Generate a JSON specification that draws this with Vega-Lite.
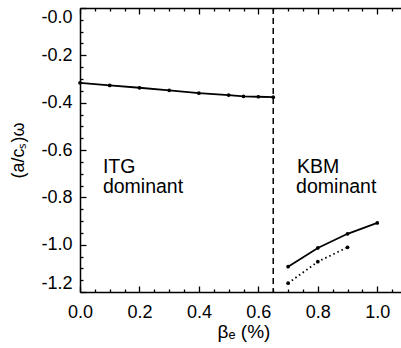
{
  "$schema": "https://vega.github.io/schema/vega-lite/v6.json",
  "width": 327,
  "height": 284,
  "autosize": "none",
  "padding": {"left": 80, "top": 8, "right": -6, "bottom": 56},
  "background": "white",
  "config": {
    "view": {"stroke": null},
    "font": "Liberation Sans",
    "axis": {
      "grid": false,
      "domainColor": "black",
      "domainWidth": 1.5,
      "tickColor": "black",
      "tickWidth": 1.3,
      "labelColor": "black",
      "titleColor": "black",
      "labelFont": "Liberation Sans",
      "titleFont": "Liberation Sans",
      "labelFontSize": 18,
      "titleFontSize": 19,
      "titleFontWeight": "normal"
    }
  },
  "datasets": {
    "curves": [
      {"series": "ITG", "style": "solid", "beta": 0.0, "omega": -0.316},
      {"series": "ITG", "style": "solid", "beta": 0.1, "omega": -0.327},
      {"series": "ITG", "style": "solid", "beta": 0.2, "omega": -0.337},
      {"series": "ITG", "style": "solid", "beta": 0.3, "omega": -0.348},
      {"series": "ITG", "style": "solid", "beta": 0.4, "omega": -0.36},
      {"series": "ITG", "style": "solid", "beta": 0.5, "omega": -0.368},
      {"series": "ITG", "style": "solid", "beta": 0.55, "omega": -0.373},
      {"series": "ITG", "style": "solid", "beta": 0.6, "omega": -0.375},
      {"series": "ITG", "style": "solid", "beta": 0.65, "omega": -0.377},
      {"series": "KBM", "style": "solid", "beta": 0.7, "omega": -1.093},
      {"series": "KBM", "style": "solid", "beta": 0.8, "omega": -1.014},
      {"series": "KBM", "style": "solid", "beta": 0.9, "omega": -0.954},
      {"series": "KBM", "style": "solid", "beta": 1.0, "omega": -0.908},
      {"series": "KBM2", "style": "dotted", "beta": 0.7, "omega": -1.163},
      {"series": "KBM2", "style": "dotted", "beta": 0.8, "omega": -1.072},
      {"series": "KBM2", "style": "dotted", "beta": 0.9, "omega": -1.011}
    ],
    "boundary": [{"beta": 0.65}],
    "labels": [
      {"beta": 0.077, "omega": -0.697, "text": "ITG"},
      {"beta": 0.077, "omega": -0.782, "text": "dominant"},
      {"beta": 0.73, "omega": -0.697, "text": "KBM"},
      {"beta": 0.727, "omega": -0.782, "text": "dominant"}
    ]
  },
  "resolve": {"axis": {"x": "independent", "y": "independent"}},
  "layer": [
    {
      "data": {"name": "curves"},
      "transform": [{"filter": "datum.style == 'solid'"}],
      "mark": {"type": "line", "color": "black", "strokeWidth": 1.8},
      "encoding": {
        "x": {
          "field": "beta", "type": "quantitative",
          "scale": {"domain": [0, 1.1], "nice": false, "zero": false},
          "axis": {
            "orient": "bottom",
            "values": [0, 0.2, 0.4, 0.6, 0.8, 1.0],
            "tickSize": -6,
            "labelPadding": 17,
            "labelFlush": false,
            "labelExpr": "format(datum.value, '.1f')",
            "title": "βₑ (%)",
            "titlePadding": 1
          }
        },
        "y": {
          "field": "omega", "type": "quantitative",
          "scale": {"domain": [-1.2, 0], "nice": false, "zero": false},
          "axis": {
            "orient": "left",
            "values": [-1.2, -1.0, -0.8, -0.6, -0.4, -0.2, 0],
            "tickSize": -6,
            "labelPadding": 14,
            "labelFlush": true,
            "labelExpr": "'-' + format(abs(datum.value), '.1f')",
            "title": "(a/cₛ)ω",
            "titleFontSize": 18,
            "titlePadding": 13
          }
        },
        "detail": {"field": "series"}
      }
    },
    {
      "data": {"name": "curves"},
      "transform": [{"filter": "datum.style == 'dotted'"}],
      "mark": {"type": "line", "color": "black", "strokeWidth": 1.8, "strokeDash": [1.5, 3]},
      "encoding": {
        "x": {
          "field": "beta", "type": "quantitative",
          "scale": {"domain": [0, 1.1], "nice": false, "zero": false},
          "axis": {
            "orient": "bottom",
            "values": [0.05, 0.1, 0.15, 0.25, 0.3, 0.35, 0.45, 0.5, 0.55, 0.65, 0.7, 0.75, 0.85, 0.9, 0.95, 1.05],
            "tickSize": -3,
            "labels": false,
            "domain": false,
            "title": null
          }
        },
        "y": {
          "field": "omega", "type": "quantitative",
          "scale": {"domain": [-1.2, 0], "nice": false, "zero": false},
          "axis": {
            "orient": "left",
            "values": [-1.15, -1.1, -1.05, -0.95, -0.9, -0.85, -0.75, -0.7, -0.65, -0.55, -0.5, -0.45, -0.35, -0.3, -0.25, -0.15, -0.1, -0.05],
            "tickSize": -3,
            "labels": false,
            "domain": false,
            "title": null
          }
        }
      }
    },
    {
      "data": {"name": "curves"},
      "mark": {"type": "point", "filled": true, "color": "black", "size": 14, "opacity": 1},
      "encoding": {
        "x": {
          "field": "beta", "type": "quantitative",
          "scale": {"domain": [0, 1.1], "nice": false, "zero": false},
          "axis": {
            "orient": "top",
            "values": [0, 0.2, 0.4, 0.6, 0.8, 1.0],
            "tickSize": -6,
            "labels": false,
            "title": null
          }
        },
        "y": {
          "field": "omega", "type": "quantitative",
          "scale": {"domain": [-1.2, 0], "nice": false, "zero": false},
          "axis": null
        }
      }
    },
    {
      "data": {"name": "boundary"},
      "mark": {"type": "rule", "color": "black", "strokeWidth": 1.5, "strokeDash": [6, 4]},
      "encoding": {
        "x": {
          "field": "beta", "type": "quantitative",
          "scale": {"domain": [0, 1.1], "nice": false, "zero": false},
          "axis": {
            "orient": "top",
            "values": [0.05, 0.1, 0.15, 0.25, 0.3, 0.35, 0.45, 0.5, 0.55, 0.65, 0.7, 0.75, 0.85, 0.9, 0.95, 1.05],
            "tickSize": -3,
            "labels": false,
            "domain": false,
            "title": null
          }
        }
      }
    },
    {
      "data": {"name": "labels"},
      "mark": {"type": "text", "align": "left", "baseline": "alphabetic", "font": "Liberation Sans", "fontSize": 19.5, "color": "black"},
      "encoding": {
        "x": {"field": "beta", "type": "quantitative", "scale": {"domain": [0, 1.1], "nice": false, "zero": false}, "axis": null},
        "y": {"field": "omega", "type": "quantitative", "scale": {"domain": [-1.2, 0], "nice": false, "zero": false}, "axis": null},
        "text": {"field": "text"}
      }
    }
  ]
}
